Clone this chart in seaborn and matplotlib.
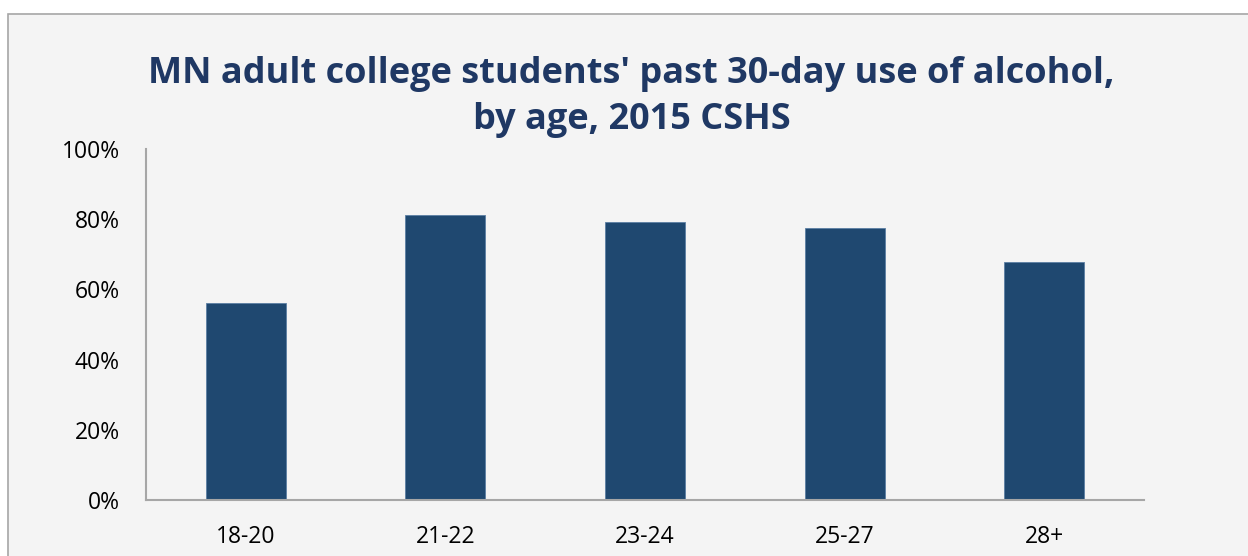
import matplotlib
matplotlib.use("Agg")
import matplotlib.pyplot as plt
import matplotlib.patches as mpatches
import seaborn as sns
import pandas as pd

# Past 30-day alcohol use by age group (percent of students)
age_groups = ["18-20", "21-22", "23-24", "25-27", "28+"]
pct_used = [56.2, 81.2, 79.3, 77.4, 67.7]
y_ticks = [0, 20, 40, 60, 80, 100]

df = pd.DataFrame({"age": age_groups, "pct": pct_used})

sns.set_theme(style="white")
plt.rcParams["font.family"] = ["Open Sans", "DejaVu Sans"]

bg = "#f4f4f4"
bar_color = "#1f4870"
title_color = "#1f3864"
axis_gray = "#a6a6a6"

fig = plt.figure(figsize=(12.48, 5.56), dpi=100, facecolor="white")

# Chart frame: light panel with a thin gray border
frame = mpatches.Rectangle((8 / 1248, -0.05), 1.1, (556 - 14) / 556 + 0.05,
                           transform=fig.transFigure, facecolor=bg,
                           edgecolor=axis_gray, linewidth=1.2, zorder=-10)
fig.patches.append(frame)

ax = fig.add_axes([146 / 1248, 56 / 556, 998 / 1248, (500 - 149) / 556])
ax.set_zorder(5)
ax.patch.set_alpha(0)

sns.barplot(data=df, x="age", y="pct", color=bar_color, saturation=1,
            width=0.4, ax=ax, edgecolor="#5b7ea3", linewidth=0.6)

ax.set_ylim(0, 100)
ax.set_xlim(-0.5, len(age_groups) - 0.5)
ax.set_yticks(y_ticks)
ax.set_yticklabels([f"{t}%" for t in y_ticks])
ax.set_xlabel("")
ax.set_ylabel("")
ax.tick_params(axis="both", length=0, labelsize=16.5, colors="black")
ax.tick_params(axis="y", pad=19)
ax.tick_params(axis="x", pad=18)

for side in ["top", "right"]:
    ax.spines[side].set_visible(False)
for side in ["left", "bottom"]:
    ax.spines[side].set_color(axis_gray)
    ax.spines[side].set_linewidth(1.5)

fig.text(0.506, 0.826,
         "MN adult college students' past 30-day use of alcohol,\nby age, 2015 CSHS",
         ha="center", va="center", fontsize=26, fontweight="bold",
         color=title_color, linespacing=1.38)

fig.savefig("out.png", dpi=100, facecolor="white")
